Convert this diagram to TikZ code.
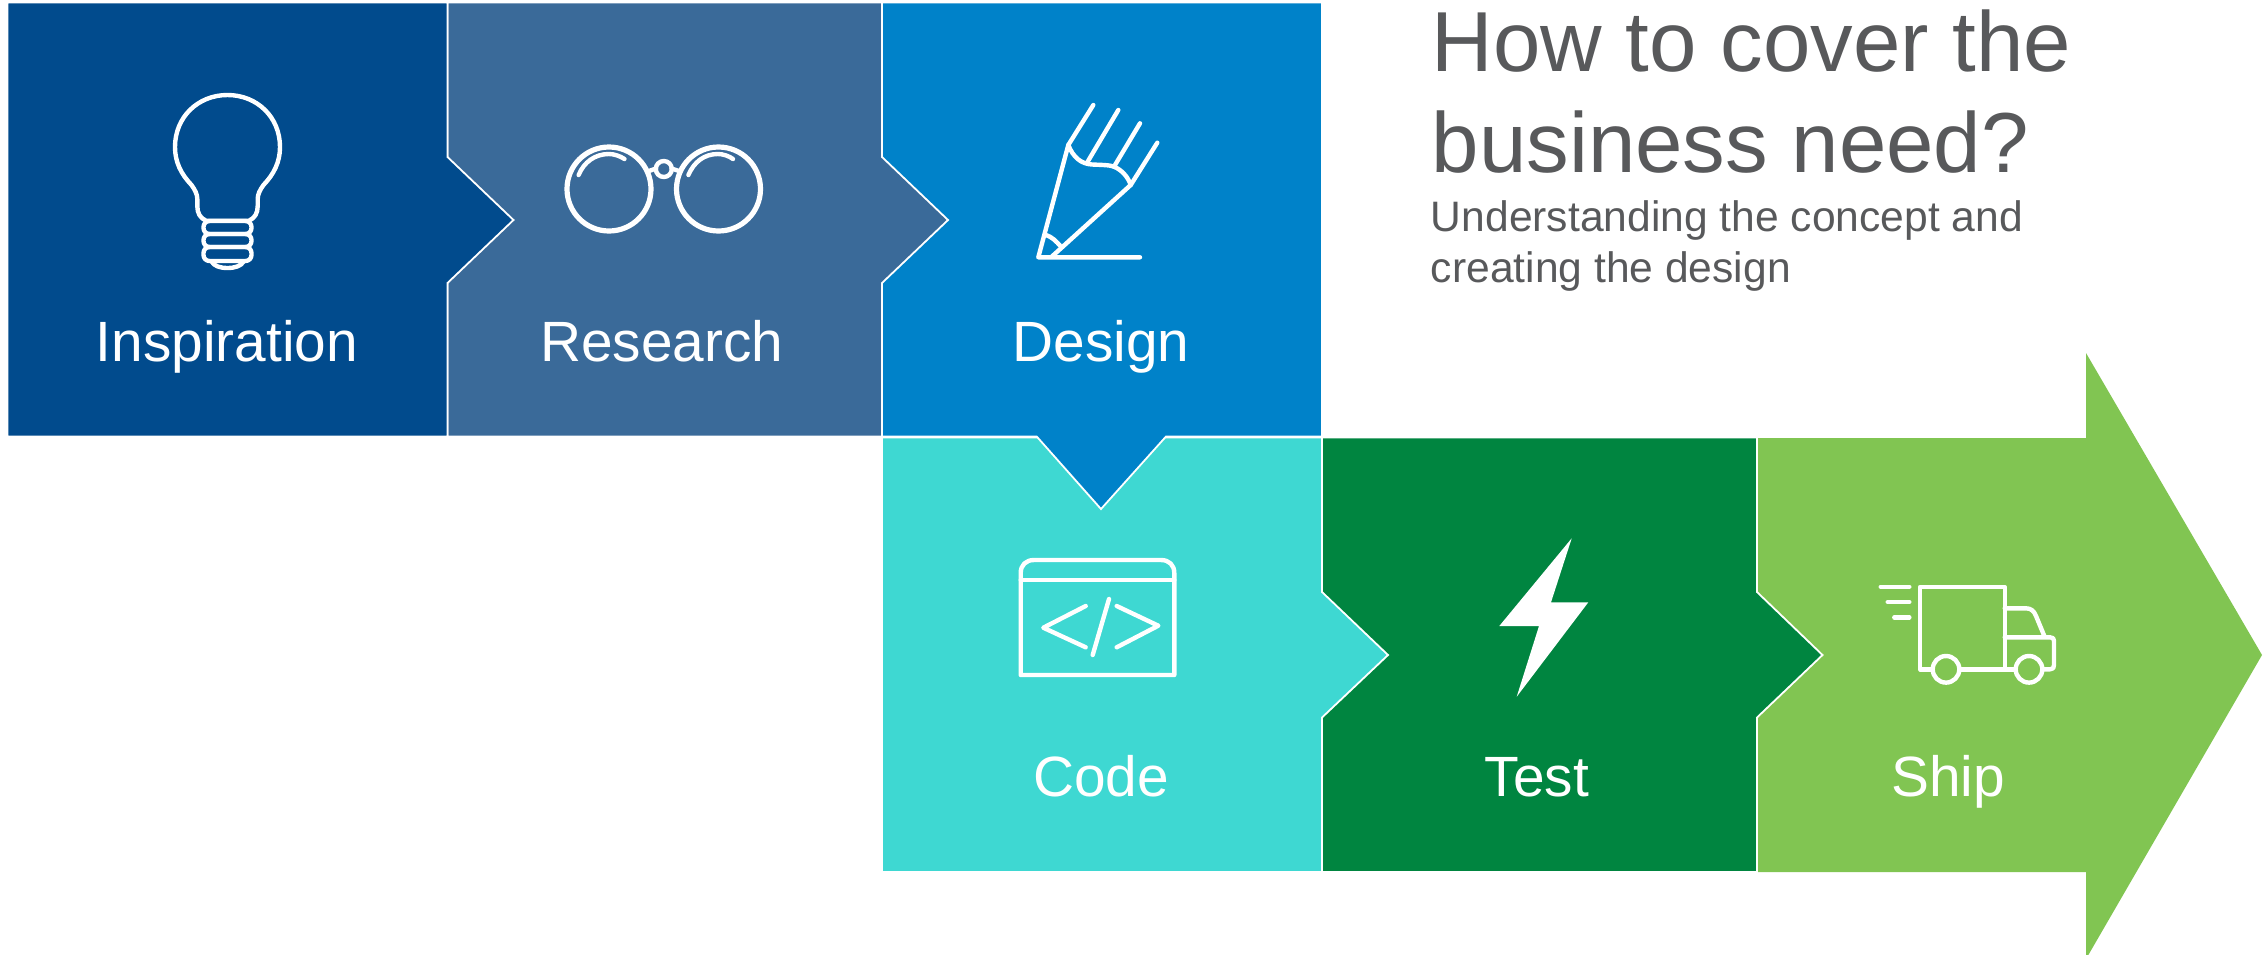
\documentclass[tikz,border=0pt]{standalone}
\usepackage{fontspec}
\setmainfont{Liberation Sans}
\definecolor{cInsp}{HTML}{014B8D}
\definecolor{cRes}{HTML}{3A6A99}
\definecolor{cDes}{HTML}{0082C9}
\definecolor{cCode}{HTML}{3ED8D2}
\definecolor{cTest}{HTML}{008540}
\definecolor{cShip}{HTML}{81C552}
\definecolor{cText}{HTML}{58595B}
\tikzset{
  panel/.style={draw=white,line width=0.9pt,line join=miter,fill=#1},
  icon/.style={draw=white,line width=2.2pt,line cap=round,line join=round},
  label/.style={text=white,font=\fontsize{28.4}{30}\selectfont,anchor=base,inner sep=0pt},
  titletext/.style={text=cText,anchor=base west,inner sep=0pt,font=\fontsize{42.6}{44}\selectfont},
  subtext/.style={text=cText,anchor=base west,inner sep=0pt,font=\fontsize{21.3}{23}\selectfont}
}
\begin{document}
\begin{tikzpicture}[x=0.5pt,y=-0.5pt]
\useasboundingbox (0,0) rectangle (2265,954);
\clip (0,0) rectangle (2265,954);
% panels, last in the chain first
\path[panel=cShip,draw=none] (1757,438) -- (2086,438) -- (2086,353) -- (2262,655) -- (2086,959) -- (2086,872) -- (1757,872) -- cycle;
\path[panel=cTest] (1322,437.5) -- (1757,437.5) -- (1757,592) -- (1822.5,655) -- (1757,717.5) -- (1757,872) -- (1322,872) -- cycle;
\path[panel=cCode] (882,437.5) -- (1322,437.5) -- (1322,592) -- (1388,655) -- (1322,717.5) -- (1322,872) -- (882,872) -- cycle;
\path[panel=cDes] (882,2.5) -- (1322,2.5) -- (1322,436.5) -- (1166,436.5) -- (1101,509) -- (1036.7,436.5) -- (882,436.5) -- cycle;
\path[panel=cRes] (447.5,2.5) -- (882,2.5) -- (882,157) -- (948,220) -- (882,283) -- (882,436.5) -- (447.5,436.5) -- cycle;
\path[panel=cInsp] (7.5,2.5) -- (447.5,2.5) -- (447.5,157) -- (513.5,220) -- (447.5,283) -- (447.5,436.5) -- (7.5,436.5) -- cycle;
% bulb
\draw[icon] (206,220.7) .. controls (200,218) and (197.3,213) .. (197.3,206) -- (197.3,199)
  .. controls (197.3,194) and (195,190) .. (191.5,185)
  .. controls (181,174) and (175,162) .. (175,147)
  .. controls (175,117) and (198,95) .. (227.5,95)
  .. controls (257,95) and (280,117) .. (280,147)
  .. controls (280,162) and (274,174) .. (263.5,185)
  .. controls (260,190) and (257.7,194) .. (257.7,199) -- (257.7,206)
  .. controls (257.7,213) and (255,218) .. (249,220.7) -- cycle;
\draw[icon,rounded corners=3pt] (203.5,221) rectangle (251.5,234);
\draw[icon,rounded corners=3pt] (203.5,234) rectangle (251.5,247);
\draw[icon,rounded corners=3pt] (203.5,247) rectangle (251.5,261);
\draw[icon] (211.6,261.5) .. controls (214,266) and (220,268) .. (227.5,268) .. controls (235,268) and (241,266) .. (243.7,261.5);
% glasses
\draw[icon,line width=2.6pt] (609,189) circle (42);
\draw[icon,line width=2.6pt] (718.5,189) circle (42);
\draw[icon] (663.8,169) circle (8);
\draw[icon] (649,171) -- (656,168.5);
\draw[icon] (671.5,168.5) -- (679,171);
\draw[icon] (578.6,175) .. controls (584,162) and (595,154) .. (609,154) .. controls (614,154) and (620,156) .. (624.5,159);
\draw[icon] (688.4,175) .. controls (694,162) and (704,154) .. (718,154) .. controls (723,154) and (729,156) .. (733,159);
% pencil
\draw[icon] (1093.3,105) -- (1068.3,145) -- (1038.3,257.3) -- (1140,257.3);
\draw[icon] (1086.7,163.3) -- (1118.3,110);
\draw[icon] (1114,166.7) -- (1140,123.3);
\draw[icon] (1157.3,142.7) -- (1130.7,185) -- (1051.7,256.7);
\draw[icon] (1068.3,145) .. controls (1073,157) and (1081,164) .. (1092,164.5) .. controls (1103,165) and (1110,165) .. (1114,166.7) .. controls (1122,170) and (1128,177) .. (1130.7,185);
\draw[icon] (1046,235) .. controls (1052,237) and (1056,241) .. (1061,246.7);
% code window
\draw[icon] (1020.7,675) -- (1020.7,573) .. controls (1020.7,565) and (1026,560) .. (1034,560) -- (1161,560) .. controls (1169,560) and (1174.3,565) .. (1174.3,573) -- (1174.3,675) -- cycle;
\draw[icon] (1020.7,580) -- (1174.3,580);
\draw[icon] (1085.7,606) -- (1043.3,627.7) -- (1085.7,647.3);
\draw[icon] (1109,599) -- (1092.7,655);
\draw[icon] (1116.7,606) -- (1158.3,625.7) -- (1116.7,647.3);
% bolt
\fill[white] (1571.7,538.3) -- (1499.3,626) -- (1539,626) -- (1516.7,696.7) -- (1588.3,602.3) -- (1551,602.3) -- cycle;
% truck
\draw[icon] (1880.7,586.7) -- (1909.3,586.7);
\draw[icon] (1887.7,602) -- (1909.3,602);
\draw[icon] (1894.3,617.3) -- (1909.3,617.3);
\draw[icon] (1932.7,669.3) -- (1920,669.3) -- (1920,587) -- (2004.7,587) -- (2004.7,669.3);
\draw[icon] (1959.3,669.3) -- (2015.7,669.3);
\draw[icon] (1946,669.3) circle (13.3);
\draw[icon] (2029,669.3) circle (13.3);
\draw[icon] (2004.7,608.3) -- (2026,608.3) .. controls (2031,608.3) and (2034,611) .. (2036,616) -- (2044.3,636);
\draw[icon] (2004.7,637.3) -- (2050,637.3) .. controls (2053,637.3) and (2054,638.5) .. (2054,641) -- (2054,665) .. controls (2054,668) and (2053,669.3) .. (2050,669.3) -- (2042.3,669.3);
% labels
\node[label] (inspiration) at (227,361) {Inspiration};
\node[label] (research) at (661.6,361) {Research};
\node[label] (design) at (1101,361) {Design};
\node[label] (code) at (1101,796) {Code};
\node[label] (test) at (1537,796) {Test};
\node[label] (ship) at (1948,796) {Ship};
\node[titletext] (titleA) at (1431.5,71) {How to cover the};
\node[titletext] (titleB) at (1431.5,172) {business need?};
\node[subtext] (subA) at (1430.5,231.5) {Understanding the concept and};
\node[subtext] (subB) at (1430.5,282) {creating the design};
\end{tikzpicture}
\end{document}
